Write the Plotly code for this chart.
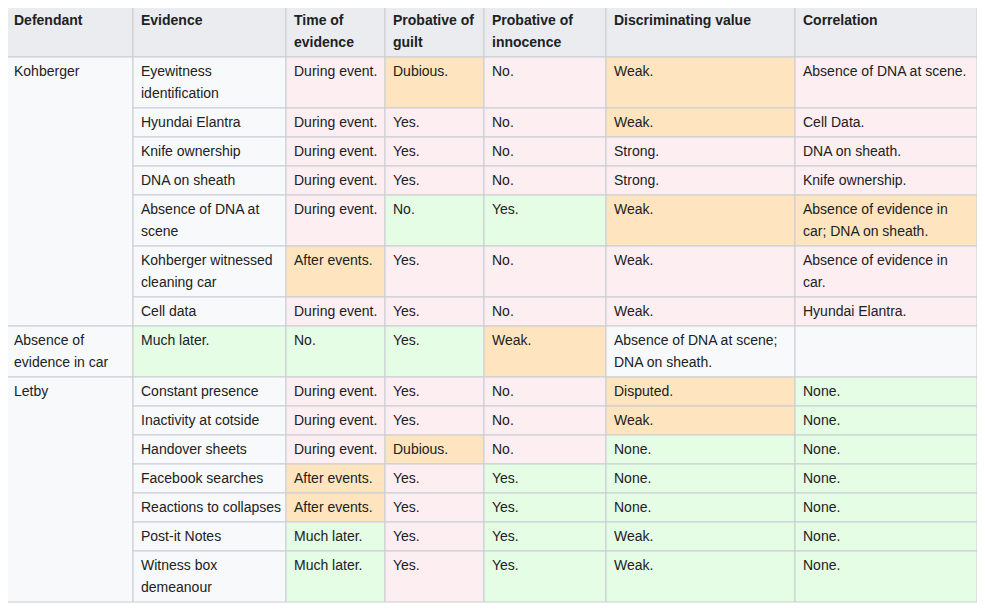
import plotly.graph_objects as go

# column headers and cell texts ("<br>" marks a wrapped line)
headers = ["Defendant", "Evidence", "Time of<br>evidence", "Probative of<br>guilt",
           "Probative of<br>innocence", "Discriminating value", "Correlation"]

defendants = ["Kohberger", "", "", "", "", "", "",
              "Absence of<br>evidence in car",
              "Letby", "", "", "", "", "", ""]

evidence = ["Eyewitness<br>identification", "Hyundai Elantra", "Knife ownership", "DNA on sheath",
            "Absence of DNA at<br>scene", "Kohberger witnessed<br>cleaning car", "Cell data",
            "Much later.",
            "Constant presence", "Inactivity at cotside", "Handover sheets", "Facebook searches",
            "Reactions to collapses", "Post-it Notes", "Witness box<br>demeanour"]
time_of = ["During event.", "During event.", "During event.", "During event.", "During event.",
           "After events.", "During event.", "No.",
           "During event.", "During event.", "During event.", "After events.", "After events.",
           "Much later.", "Much later."]
guilt = ["Dubious.", "Yes.", "Yes.", "Yes.", "No.", "Yes.", "Yes.", "Yes.",
         "Yes.", "Yes.", "Dubious.", "Yes.", "Yes.", "Yes.", "Yes."]
innocence = ["No.", "No.", "No.", "No.", "Yes.", "No.", "No.", "Weak.",
             "No.", "No.", "No.", "Yes.", "Yes.", "Yes.", "Yes."]
discriminating = ["Weak.", "Weak.", "Strong.", "Strong.", "Weak.", "Weak.", "Weak.",
                  "Absence of DNA at scene;<br>DNA on sheath.",
                  "Disputed.", "Weak.", "None.", "None.", "None.", "Weak.", "Weak."]
correlation = ["Absence of DNA at scene.", "Cell Data.", "DNA on sheath.", "Knife ownership.",
               "Absence of evidence in<br>car; DNA on sheath.", "Absence of evidence in<br>car.",
               "Hyundai Elantra.", "",
               "None.", "None.", "None.", "None.", "None.", "None.", "None."]

# cell shading class per row for columns Evidence..Correlation: n=neutral, r=pink, o=orange, g=green
shading = ["nroror", "nrrror", "nrrrrr", "nrrrrr", "nrggoo", "norrrr", "nrrrrr", "gggonn",
           "nrrrog", "nrrrog", "nrorgg", "norggg", "norggg", "ngrggg", "ngrggg"]

palette = {"n": "#f8f9fa", "r": "#fdeef2", "o": "#fee5bf", "g": "#e5fde5"}
header_bg = "#eaecf0"
border = "#c8ccd1"
font = "Liberation Sans, Arial, sans-serif"

col_edges = [6, 133, 286, 385, 484, 606, 795, 977]
top = 6
header_h = 51
line_h = 22
base_h = 29
page_offset = 8  # the html body margin shifts the plot

columns = [evidence, time_of, guilt, innocence, discriminating, correlation]
n_rows = len(evidence)


def nlines(s):
    return s.count("<br>") + 1


row_h = []
for i in range(n_rows):
    m = max(nlines(c[i]) for c in columns + [defendants])
    row_h.append(base_h + line_h * (m - 1))
row_top = [top + header_h]
for h in row_h[:-1]:
    row_top.append(row_top[-1] + h)

shapes, annotations = [], []


def cell(x0, x1, y0, y1, fill, text, bold=False):
    shapes.append(dict(type="rect", xref="x", yref="y", x0=x0, x1=x1, y0=y0, y1=y1,
                       fillcolor=fill, line=dict(color=border, width=1), layer="below"))
    for k, ln in enumerate(text.split("<br>")):
        if not ln:
            continue
        annotations.append(dict(x=x0 + 6, y=y0 + 14 + line_h * k, xref="x", yref="y",
                                text="<b>%s</b>" % ln if bold else ln, showarrow=False,
                                xanchor="left", yanchor="middle",
                                font=dict(family=font, size=14, color="#202122")))


# header
for j, h in enumerate(headers):
    cell(col_edges[j], col_edges[j + 1], top, top + header_h, header_bg, h, bold=True)

# defendant column with row spans
i = 0
while i < n_rows:
    j = i + 1
    while j < n_rows and defendants[j] == "":
        j += 1
    cell(col_edges[0], col_edges[1], row_top[i], row_top[j - 1] + row_h[j - 1],
         palette["n"], defendants[i])
    i = j

# body cells
for i in range(n_rows):
    for c, col in enumerate(columns):
        cell(col_edges[c + 1], col_edges[c + 2], row_top[i], row_top[i] + row_h[i],
             palette[shading[i][c]], col[i])

fig = go.Figure(go.Scatter(x=[0], y=[0], mode="markers", marker=dict(opacity=0),
                           hoverinfo="skip", showlegend=False))
fig.update_layout(width=985, height=610, margin=dict(l=0, r=0, t=0, b=0),
                  paper_bgcolor="white", plot_bgcolor="white",
                  shapes=shapes, annotations=annotations,
                  xaxis=dict(range=[page_offset, 985 + page_offset], visible=False, fixedrange=True),
                  yaxis=dict(range=[610 + page_offset, page_offset], visible=False, fixedrange=True))
fig.write_html("out.html")
